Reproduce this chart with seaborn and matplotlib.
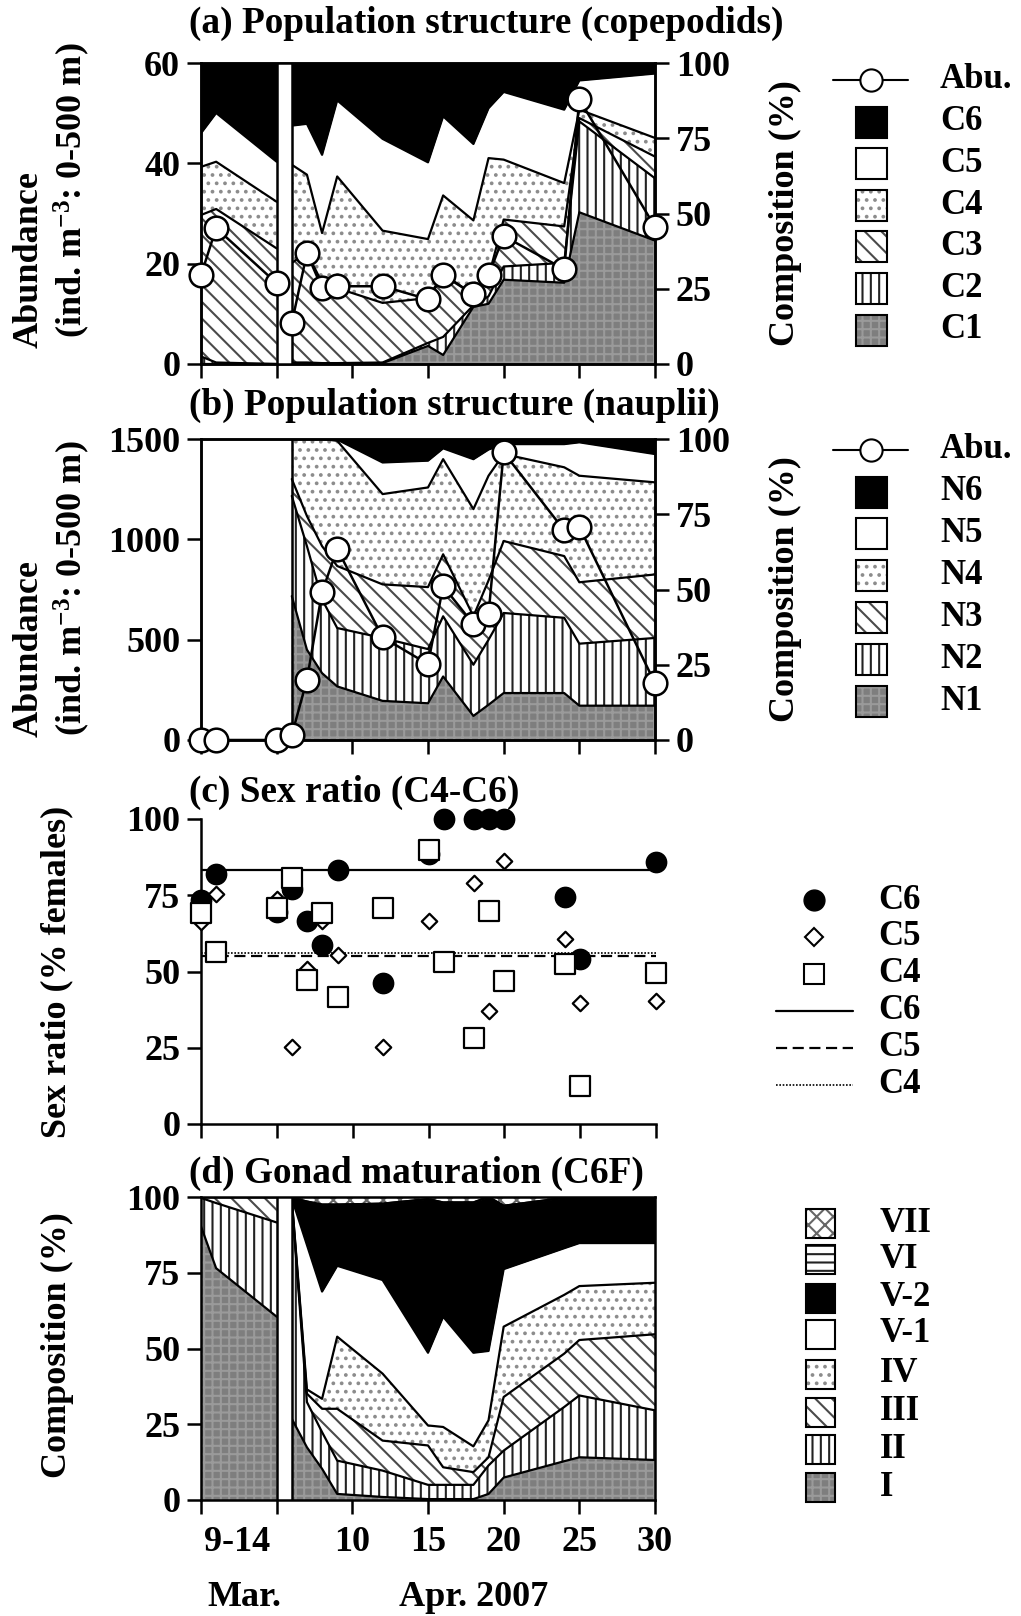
import matplotlib
matplotlib.use("Agg")
import matplotlib.pyplot as plt
from matplotlib.patches import Rectangle
from matplotlib.lines import Line2D
import numpy as np
import pandas as pd
import seaborn as sns

# sampling days on the x axis: 0, 1, 5 = 9, 10, 14 Mar; 6..30 = day of April
days = [0, 1, 5, 6, 7, 8, 9, 12, 15, 16, 18, 19, 20, 24, 25, 30]
apr_days = days[3:]

# (a) copepodids: abundance (ind. m-3) and stage composition (%)
cop_abu = [17.7, 27.1, 16.1, 8.2, 22.1, 15.1, 15.5, 15.5, 12.9, 17.7, 13.9, 17.7, 25.5, 18.9, 52.8, 27.3]
cop_c1 = [0, 0, 0, 0, 0, 0, 0, 0.3, 6, 3, 19, 20, 28, 27, 50.4, 41]
cop_c2 = [2.5, 0.5, 0, 0.5, 0.5, 0.3, 0.3, 0.2, 1, 6, 0.5, 2.5, 4.4, 6.6, 30.2, 20.7]
cop_c3 = [47, 51, 38.4, 33.1, 36.5, 26.7, 24.9, 19.8, 14.9, 21, 3.5, 6.5, 15.6, 12.1, 1.1, 7.2]
cop_c4 = [16, 15.7, 15.5, 32.6, 25.9, 16.5, 37.1, 24, 19.6, 26, 24.7, 39.4, 19.9, 14.4, 2.8, 6.2]
cop_c5 = [11.2, 16.2, 13.3, 13, 16.9, 26, 25.3, 30.5, 25.5, 26.3, 25.4, 16.6, 22.5, 24.4, 9.7, 21.4]
cop_c6 = [23.3, 16.6, 32.8, 20.8, 20.2, 30.5, 12.4, 25.2, 33, 17.7, 26.9, 15, 9.6, 15.5, 5.8, 3.5]

# (b) nauplii: abundance (all days) and composition (April only)
nau_abu = [0, 0, 0, 25, 300, 738, 953, 512, 378, 767, 577, 628, 1433, 1045, 1063, 283]
nau_n1 = [47.8, 30, 22.2, 17.8, 13, 12.2, 21.1, 8, 11.7, 15.6, 15.6, 11.4, 11.4]
nau_n2 = [33.3, 34.4, 24.5, 19.4, 20.9, 18, 20, 17, 21.6, 26.6, 25, 20.6, 22.5]
nau_n3 = [5.6, 10, 17.7, 20.6, 17.8, 20.6, 20.6, 16.1, 19.7, 23.9, 20.5, 20.4, 21.1]
nau_n4 = [13.3, 25.6, 35.6, 41.6, 30, 33.1, 31.6, 35.6, 34.8, 28.9, 29.5, 35.4, 30.6]
nau_n5 = [0, 0, 0, 0.4, 10.5, 8.9, 3.6, 16.6, 8.7, 3.3, 7.7, 11.1, 9.4]
nau_n6 = [0, 0, 0, 0.2, 7.8, 7.2, 3.1, 6.7, 3.5, 1.7, 1.7, 1.1, 5]

# (c) sex ratio (% females)
sex_c6 = [73.5, 82.1, 69.5, 77, 66.4, 58.7, 83.2, 46.2, 88.5, 100, 100, 100, 100, 74.4, 54.1, 86]
c5_days = [0, 1, 5, 6, 7, 8, 9, 12, 15, 18, 19, 20, 24, 25, 30]
sex_c5 = [66.2, 75.3, 73.9, 25.4, 50.8, 66.5, 55.4, 25.4, 66.7, 79, 36.9, 86.2, 60.7, 39.6, 40.4]
sex_c4 = [69.2, 56.5, 70.9, 80.5, 47.2, 69.2, 41.8, 70.8, 90, 53.2, 28.3, 69.8, 47, 52.3, 12.6, 49.5]
mean_c6, mean_c5, mean_c4 = 83.2, 55.0, 56.1

# (d) gonad maturation of C6 females (%)
gon_1 = [90.3, 76.5, 60.5, 26.8, 17.4, 10.3, 2.0, 1.0, 0.3, 0.3, 0.3, 2.0, 7.4, 12.8, 14.1, 13.2]
gon_2 = [9.4, 21.5, 31.1, 71.7, 14.9, 12.1, 11.0, 8.7, 4.7, 4.7, 4.7, 9.4, 8.9, 17.9, 20.4, 16.4]
gon_3 = [0.3, 2.0, 8.4, 0.5, 2.8, 7.7, 17.1, 9.9, 13.0, 5.8, 4.2, 2.7, 17.7, 17.6, 18.3, 25.1]
gon_4 = [0, 0, 0, 0.3, 1.4, 3.3, 23.8, 22.1, 6.6, 13.3, 8.5, 12.2, 23.2, 19.4, 17.8, 17.0]
gon_5a = [0, 0, 0, 0.3, 47.7, 35.4, 23.4, 30.9, 24.0, 36.4, 30.9, 22.9, 19.0, 15.4, 14.2, 13.1]
gon_5b = [0, 0, 0, 0.2, 14.3, 28.7, 20.2, 25.2, 50.7, 37.7, 49.6, 50.8, 20.9, 16.6, 15.2, 15.2]
gon_6 = [0] * 16
gon_7 = [0, 0, 0, 0.2, 1.5, 2.5, 2.5, 2.2, 0.7, 1.8, 1.8, 0, 2.9, 0.3, 0, 0]

xtick_pos = [0, 5, 10, 15, 20, 25, 30]
xtick_lab = ["", "", "10", "15", "20", "25", "30"]

sns.set_style("ticks")
plt.rcParams["font.family"] = ["Liberation Serif", "DejaVu Serif"]
plt.rcParams["font.weight"] = "bold"
plt.rcParams["mathtext.fontset"] = "custom"
plt.rcParams["mathtext.rm"] = "Liberation Serif:bold"
plt.rcParams["mathtext.it"] = "Liberation Serif:bold"
plt.rcParams["mathtext.bf"] = "Liberation Serif:bold"
plt.rcParams["hatch.linewidth"] = 1.5
for k in ["text.color", "axes.edgecolor", "xtick.color", "ytick.color", "axes.labelcolor"]:
    plt.rcParams[k] = "black"

# fill styles: facecolor, hatch, hatch colour
FILL = {
    "gray": ("#7e7e7e", "++", "#9a9a9a"),
    "vert": ("white", "||", "#222222"),
    "diag": ("white", "\\\\", "#4a4a4a"),
    "dots": ("white", "..", "#8c8c8c"),
    "white": ("white", None, "white"),
    "black": ("black", None, "black"),
    "horiz": ("white", "--", "#222222"),
    "wave": ("white", "xx", "#666666"),
}

W, H = 1021, 1616
fig = plt.figure(figsize=(W / 100, H / 100), dpi=100)


def axes_px(x0, y0, x1, y1):
    return fig.add_axes([x0 / W, 1 - y1 / H, (x1 - x0) / W, (y1 - y0) / H])


def draw_stack(ax, x, layers):
    base = np.zeros(len(x))
    for vals, sty in layers:
        fc, hatch, hc = FILL[sty]
        top = base + np.asarray(vals, float)
        ax.fill_between(x, base, top, facecolor=fc, hatch=hatch, edgecolor=hc,
                        linewidth=0, zorder=1)
        ax.plot(x, top, color="k", lw=1.6, zorder=2)
        base = top


def draw_abundance(ax, x, y):
    df = pd.DataFrame({"day": x, "abu": y})
    sns.lineplot(data=df, x="day", y="abu", ax=ax, color="k", lw=1.8,
                 estimator=None, sort=False, zorder=2)
    sns.scatterplot(data=df, x="day", y="abu", ax=ax, s=290, color="white",
                    edgecolor="k", linewidth=1.8, zorder=4, clip_on=False)
    ax.set_xlabel("")
    ax.set_ylabel("")


def style_axes(ax):
    ax.tick_params(direction="out", length=10, width=1.8, labelsize=26, pad=5)
    for s in ax.spines.values():
        s.set_linewidth(1.8)


def ftext(x, y, s, size=26, **kw):
    fig.text(x / W, 1 - y / H, s, fontsize=size, fontweight="bold", **kw)


def key_box(x, y, sty, size=31):
    fc, hatch, hc = FILL[sty]
    xy = ((x - size / 2) / W, 1 - (y + size / 2) / H)
    fig.add_artist(Rectangle(xy, size / W, size / H, transform=fig.transFigure,
                             facecolor=fc, hatch=hatch, edgecolor=hc, linewidth=0))
    fig.add_artist(Rectangle(xy, size / W, size / H, transform=fig.transFigure,
                             fill=False, edgecolor="k", linewidth=1.5))


def key_abu(y):
    fy = 1 - y / H
    fig.add_artist(Line2D([833 / W, 908 / W], [fy, fy], transform=fig.transFigure,
                          color="k", lw=1.5))
    fig.add_artist(Line2D([871 / W], [fy], transform=fig.transFigure, marker="o",
                          ms=16, mfc="white", mec="k", mew=1.5))


# ---------------- (a) copepodids ----------------
ax_a = axes_px(201, 63, 655, 364)
ax_a2 = ax_a.twinx()
cop_layers = [(cop_c1, "gray"), (cop_c2, "vert"), (cop_c3, "diag"),
              (cop_c4, "dots"), (cop_c5, "white"), (cop_c6, "black")]
draw_stack(ax_a, days[:3], [(v[:3], s) for v, s in cop_layers])
draw_stack(ax_a, days[3:], [(v[3:], s) for v, s in cop_layers])
draw_abundance(ax_a2, days, cop_abu)
ax_a2.axvspan(5, 6, facecolor="white", edgecolor="k", lw=1.8, zorder=3)
ax_a.set_ylim(0, 100)
ax_a2.set_ylim(0, 60)
ax_a.yaxis.tick_right()
ax_a2.yaxis.tick_left()
ax_a.set_yticks([0, 25, 50, 75, 100])
ax_a2.set_yticks([0, 20, 40, 60])

# ---------------- (b) nauplii ----------------
ax_b = axes_px(201, 439, 655, 740)
ax_b2 = ax_b.twinx()
nau_layers = [(nau_n1, "gray"), (nau_n2, "vert"), (nau_n3, "diag"),
              (nau_n4, "dots"), (nau_n5, "white"), (nau_n6, "black")]
draw_stack(ax_b, apr_days, nau_layers)
ax_b.axvline(apr_days[0], color="k", lw=1.8, zorder=2)
draw_abundance(ax_b2, days, nau_abu)
ax_b.set_ylim(0, 100)
ax_b2.set_ylim(0, 1500)
ax_b.yaxis.tick_right()
ax_b2.yaxis.tick_left()
ax_b.set_yticks([0, 25, 50, 75, 100])
ax_b2.set_yticks([0, 500, 1000, 1500])

# ---------------- (c) sex ratio ----------------
ax_c = axes_px(201, 819, 656, 1124)
ax_c.axhline(mean_c6, color="k", lw=1.6, zorder=1)
ax_c.axhline(mean_c5, color="k", lw=1.6, ls=(0, (5, 2.5)), zorder=1)
ax_c.axhline(mean_c4, color="k", lw=1.2, ls=(0, (1, 1)), zorder=1)
sns.scatterplot(x=days, y=sex_c6, ax=ax_c, marker="o", s=210, color="k",
                edgecolor="k", zorder=3, clip_on=False)
sns.scatterplot(x=c5_days, y=sex_c5, ax=ax_c, marker="D", s=62, color="white",
                edgecolor="k", linewidth=1.6, zorder=4, clip_on=False)
sns.scatterplot(x=days, y=sex_c4, ax=ax_c, marker="s", s=190, color="white",
                edgecolor="k", linewidth=1.6, zorder=5, clip_on=False)
ax_c.set_ylim(0, 100)
ax_c.set_yticks([0, 25, 50, 75, 100])
ax_c.spines["top"].set_visible(False)
ax_c.spines["right"].set_visible(False)

# ---------------- (d) gonad maturation ----------------
ax_d = axes_px(201, 1197, 655, 1500)
gon_layers = [(gon_1, "gray"), (gon_2, "vert"), (gon_3, "diag"), (gon_4, "dots"),
              (gon_5a, "white"), (gon_5b, "black"), (gon_6, "horiz"), (gon_7, "wave")]
draw_stack(ax_d, days[:3], [(v[:3], s) for v, s in gon_layers])
draw_stack(ax_d, days[3:], [(v[3:], s) for v, s in gon_layers])
ax_d.axvspan(5, 6, facecolor="white", edgecolor="k", lw=1.8, zorder=3)
ax_d.set_ylim(0, 100)
ax_d.set_yticks([0, 25, 50, 75, 100])

for ax in [ax_a, ax_a2, ax_b, ax_b2, ax_c, ax_d]:
    style_axes(ax)
    ax.set_xlim(0, 30)
    ax.set_xticks(xtick_pos)
    ax.set_xticklabels([])
    ax.set_xlabel("")
    ax.set_ylabel("")
ax_d.set_xticklabels(xtick_lab)
ax_d.tick_params(axis="x", pad=9)
ax_d.set_xticks([2.4], labels=["9-14"], minor=True)
ax_d.tick_params(axis="x", which="minor", length=0, labelsize=26, pad=19)

# ---------------- titles, labels, legends ----------------
ftext(189, 23, "(a) Population structure (copepodids)", size=26.8, ha="left", va="center")
ftext(189, 405, "(b) Population structure (nauplii)", size=26.8, ha="left", va="center")
ftext(189, 792, "(c) Sex ratio (C4-C6)", size=26.8, ha="left", va="center")
ftext(189, 1173, "(d) Gonad maturation (C6F)", size=26.8, ha="left", va="center")

abu_label = "(ind. m$^{-3}$: 0-500 m)"
ftext(29, 260, "Abundance", rotation=90, ha="center", va="center")
ftext(72, 190, abu_label, rotation=90, ha="center", va="center")
ftext(29, 649, "Abundance", rotation=90, ha="center", va="center")
ftext(72, 588, abu_label, rotation=90, ha="center", va="center")
ftext(785, 213, "Composition (%)", rotation=90, ha="center", va="center")
ftext(785, 589, "Composition (%)", rotation=90, ha="center", va="center")
ftext(57, 972, "Sex ratio (% females)", rotation=90, ha="center", va="center")
ftext(57, 1345, "Composition (%)", rotation=90, ha="center", va="center")
ftext(244, 1597, "Mar.", ha="center", va="center")
ftext(474, 1597, "Apr. 2007", ha="center", va="center")

cop_keys = ["C6", "C5", "C4", "C3", "C2", "C1"]
cop_styles = ["black", "white", "dots", "diag", "vert", "gray"]
key_abu(80)
ftext(940, 80, "Abu.", size=25, ha="left", va="center")
for i, (lab, sty) in enumerate(zip(cop_keys, cop_styles)):
    y = 122 + i * 41.6
    key_box(871, y, sty)
    ftext(940, y, lab, size=25, ha="left", va="center")

nau_keys = ["N6", "N5", "N4", "N3", "N2", "N1"]
key_abu(450)
ftext(940, 450, "Abu.", size=25, ha="left", va="center")
for i, (lab, sty) in enumerate(zip(nau_keys, cop_styles)):
    y = 492 + i * 41.8
    key_box(871, y, sty)
    ftext(940, y, lab, size=25, ha="left", va="center")

sex_keys = ["C6", "C5", "C4", "C6", "C5", "C4"]
mk = [dict(marker="o", ms=15, mfc="k", mec="k"),
      dict(marker="D", ms=9, mfc="white", mec="k", mew=1.5),
      dict(marker="s", ms=14, mfc="white", mec="k", mew=1.5)]
ls = [dict(ls="-", lw=1.6), dict(ls=(0, (5, 2.5)), lw=1.6), dict(ls=(0, (1, 1)), lw=1.2)]
for i, lab in enumerate(sex_keys):
    y = 900 + i * 36.9
    fy = 1 - y / H
    if i < 3:
        fig.add_artist(Line2D([814 / W], [fy], transform=fig.transFigure, ls="none", **mk[i]))
    else:
        fig.add_artist(Line2D([776 / W, 853 / W], [fy, fy], transform=fig.transFigure,
                              color="k", **ls[i - 3]))
    ftext(878, y, lab, size=25, ha="left", va="center")

gon_keys = ["VII", "VI", "V-2", "V-1", "IV", "III", "II", "I"]
gon_styles = ["wave", "horiz", "black", "white", "dots", "diag", "vert", "gray"]
gon_y = [1223, 1259, 1298, 1334, 1374, 1412, 1449, 1487]
for lab, sty, y in zip(gon_keys, gon_styles, gon_y):
    key_box(820, y, sty, size=29)
    ftext(880, y, lab, size=25, ha="left", va="center")

fig.savefig("out.png", dpi=100)
